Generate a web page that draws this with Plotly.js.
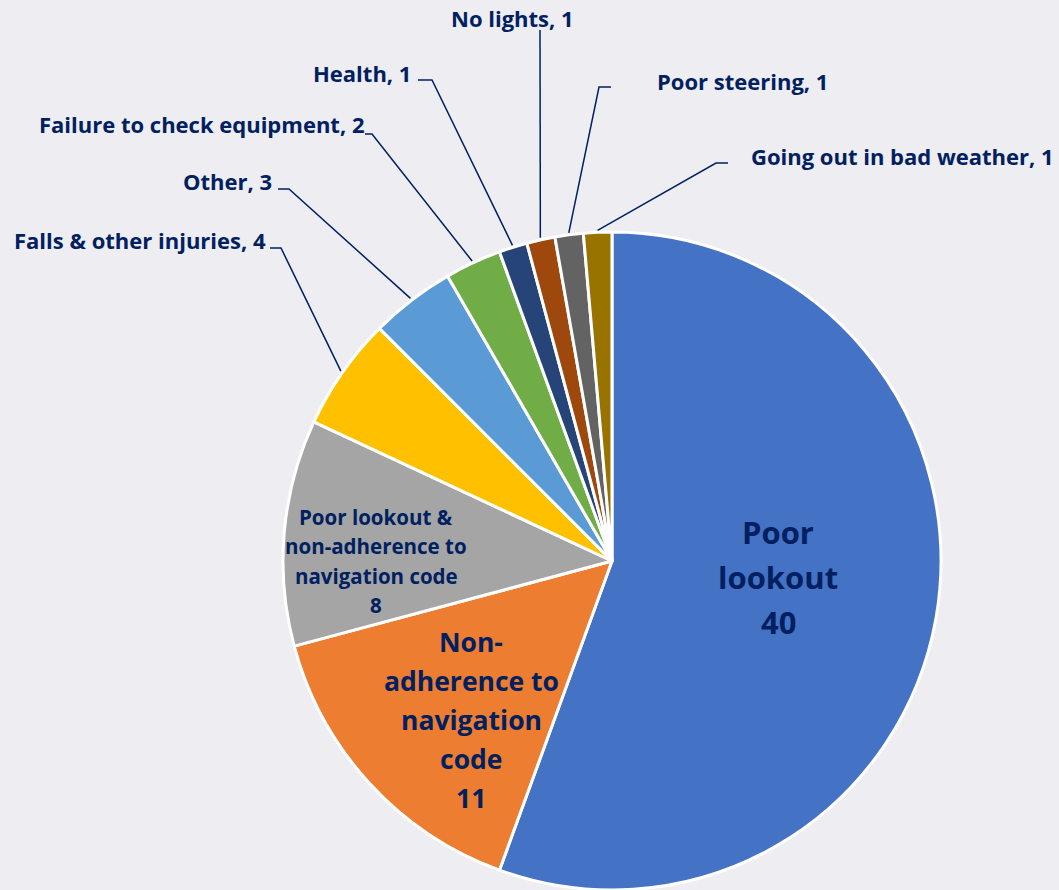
<!DOCTYPE html>
<html>
<head>
<meta charset="utf-8">
<script src="https://cdn.plot.ly/plotly-3.0.1.min.js"></script>
<style>
  html, body { margin: 0; padding: 0; background: #EEEDF2; }
  #chart { width: 1059px; height: 890px; }
</style>
</head>
<body>
<div id="chart"></div>
<script>
// ---- data ----
const categories = [
  "Poor lookout",
  "Non-adherence to navigation code",
  "Poor lookout & non-adherence to navigation code",
  "Falls & other injuries",
  "Other",
  "Failure to check equipment",
  "Health",
  "No lights",
  "Poor steering",
  "Going out in bad weather"
];
const values = [40, 11, 8, 4, 3, 2, 1, 1, 1, 1];
const colors = ["#4472C4", "#ED7D31", "#A5A5A5", "#FFC000", "#5B9BD5",
                "#70AD47", "#264478", "#9E480E", "#636363", "#997300"];

// ---- layout constants (pixels) ----
const W = 1059, H = 890;
const cx = 612, cy = 561, R = 329;
const textColor = "#002060";
const fontFam = "'Open Sans', 'Noto Sans', 'DejaVu Sans', sans-serif";

// inside labels: index, wrapped lines, centre position, font size, line spacing
const insideLabels = [
  {i: 0, wrap: ["Poor", "lookout"], x: 778, y: 577, size: 31, gap: 45},
  {i: 1, wrap: ["Non-", "adherence to", "navigation", "code"], x: 471, y: 720, size: 26.5, gap: 39},
  {i: 2, wrap: ["Poor lookout &", "non-adherence to", "navigation code"], x: 376, y: 561, size: 20.5, gap: 29.5}
];
// outside labels: index, text anchor, side, leader elbow points
const outsideLabels = [
  {i: 3, x: 268, y: 240, anchor: "right",  path: [[270, 248], [281, 248]]},
  {i: 4, x: 274, y: 181, anchor: "right",  path: [[278, 189], [289, 189]]},
  {i: 5, x: 366, y: 124, anchor: "right",  path: [[365, 134], [372, 134]]},
  {i: 6, x: 413, y: 73,  anchor: "right",  path: [[418, 80], [432, 80]]},
  {i: 7, x: 512, y: 18,  anchor: "center", path: [[540, 30]]},
  {i: 8, x: 655, y: 81,  anchor: "left",   path: [[611, 87], [599, 87]]},
  {i: 9, x: 749, y: 156, anchor: "left",   path: [[728, 163], [716, 163]]}
];

const px = x => x / W;
const py = y => 1 - y / H;

const total = values.reduce((a, b) => a + b, 0);
const midAngles = [];
let cum = 0;
values.forEach(v => { midAngles.push((cum + v / 2) / total * 2 * Math.PI); cum += v; });

const annotations = [];
const shapes = [];

insideLabels.forEach(l => {
  const lines = l.wrap.concat([String(values[l.i])]);
  const n = lines.length;
  lines.forEach((t, k) => {
    annotations.push({
      xref: "paper", yref: "paper", x: px(l.x), y: py(l.y + (k - (n - 1) / 2) * l.gap),
      xanchor: "center", yanchor: "middle", showarrow: false,
      text: t,
      font: {family: fontFam, size: l.size, color: textColor, weight: 700}
    });
  });
});

outsideLabels.forEach(l => {
  annotations.push({
    xref: "paper", yref: "paper", x: px(l.x), y: py(l.y),
    xanchor: l.anchor, yanchor: "middle", showarrow: false,
    text: categories[l.i] + ", " + values[l.i],
    font: {family: fontFam, size: 22, color: textColor, weight: 700}
  });
  const a = midAngles[l.i];
  const ex = cx + (R + 2) * Math.sin(a);
  const ey = cy - (R + 2) * Math.cos(a);
  const pts = l.path.concat([[ex, ey]]);
  const d = pts.map((p, k) => (k ? "L" : "M") + px(p[0]) + "," + py(p[1])).join(" ");
  shapes.push({type: "path", xref: "paper", yref: "paper", path: d,
               line: {color: textColor, width: 1.5}});
});

const trace = {
  type: "pie",
  labels: categories,
  values: values,
  sort: false,
  direction: "clockwise",
  rotation: 0,
  textinfo: "none",
  hoverinfo: "label+value",
  marker: {colors: colors, line: {color: "#FFFFFF", width: 3}},
  domain: {x: [px(cx - R), px(cx + R)], y: [py(cy + R), py(cy - R)]},
  showlegend: false
};

const layout = {
  width: W, height: H,
  margin: {l: 0, r: 0, t: 0, b: 0},
  paper_bgcolor: "#EEEDF2",
  plot_bgcolor: "#EEEDF2",
  showlegend: false,
  annotations: annotations,
  shapes: shapes
};

Plotly.newPlot("chart", [trace], layout, {displayModeBar: false, staticPlot: true});
</script>
</body>
</html>
